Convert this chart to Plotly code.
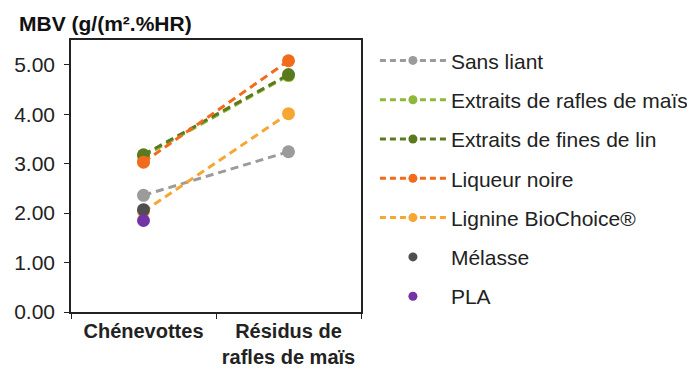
import plotly.graph_objects as go

# categories on the x axis
categories = ['<b>Chénevottes</b>', '<b>Résidus de<br>rafles de maïs</b>']

# MBV values per binder (None = no measure)
sans_liant = [2.36, 3.24]
extraits_rafles = [3.15, 4.78]
extraits_lin = [3.18, 4.80]
liqueur_noire = [3.03, 5.08]
lignine = [2.03, 4.01]
melasse = [2.07, None]
pla = [1.85, None]

series = [
    ('Sans liant', sans_liant, '#9b9b9b', 'lines+markers'),
    ('Extraits de rafles de maïs', extraits_rafles, '#8fb83a', 'lines+markers'),
    ('Extraits de fines de lin', extraits_lin, '#5b7a1f', 'lines+markers'),
    ('Liqueur noire', liqueur_noire, '#f26a1b', 'lines+markers'),
    ('Lignine BioChoice®', lignine, '#f7a634', 'lines+markers'),
    ('Mélasse', melasse, '#4f4f4f', 'markers'),
    ('PLA', pla, '#7332a6', 'markers'),
]

fig = go.Figure()

for name, values, colour, mode in series:
    fig.add_trace(go.Scatter(
        x=categories, y=values, name=name, mode=mode,
        line=dict(color=colour, width=3, dash='8px,5px'),
        marker=dict(color=colour, size=13),
        legendgroup=name, showlegend=False,
    ))
    # legend entry with the smaller symbol of the original
    fig.add_trace(go.Scatter(
        x=[None], y=[None], name=name, mode=mode,
        line=dict(color=colour, width=3, dash='6px,4px'),
        marker=dict(color=colour, size=9),
        legendgroup=name, showlegend=True,
    ))

# the page body adds an 8px margin, so the figure is 8px smaller
fig.update_layout(
    width=687, height=364,
    margin=dict(l=63, r=334, t=32, b=60, autoexpand=False),
    paper_bgcolor='white',
    plot_bgcolor='white',
    font=dict(family='Liberation Sans, Arial, sans-serif', color='#222222'),
    showlegend=True,
    legend=dict(
        x=1.048, y=0.999, xanchor='left', yanchor='top',
        font=dict(size=21, color='#222222'),
        traceorder='grouped',
        tracegroupgap=9,
        itemwidth=66,
        maxheight=364,
    ),
    annotations=[dict(
        text='<b>MBV (g/(m².%HR)</b>',
        xref='paper', yref='paper', x=-0.185, y=1.0,
        xanchor='left', yanchor='bottom', yshift=3,
        showarrow=False, font=dict(size=21, color='#111111'),
    )],
    xaxis=dict(
        type='category',
        range=[-0.5, 1.5],
        showline=True, linecolor='#222222', linewidth=1.5, mirror=True,
        ticks='outside', tickson='boundaries', ticklen=5,
        tickcolor='#222222', tickangle=0,
        tickfont=dict(size=20, color='#222222'),
        showgrid=False,
    ),
    yaxis=dict(
        range=[0, 5.5],
        tickvals=[0, 1, 2, 3, 4, 5],
        ticktext=['0.00', '1.00', '2.00', '3.00', '4.00', '5.00'],
        showline=True, linecolor='#222222', linewidth=1.5, mirror=True,
        ticks='outside', ticklen=5, tickcolor='#222222',
        ticklabelstandoff=5,
        tickfont=dict(size=21, color='#222222'),
        showgrid=False, zeroline=False,
    ),
)

fig.write_html("out.html")
